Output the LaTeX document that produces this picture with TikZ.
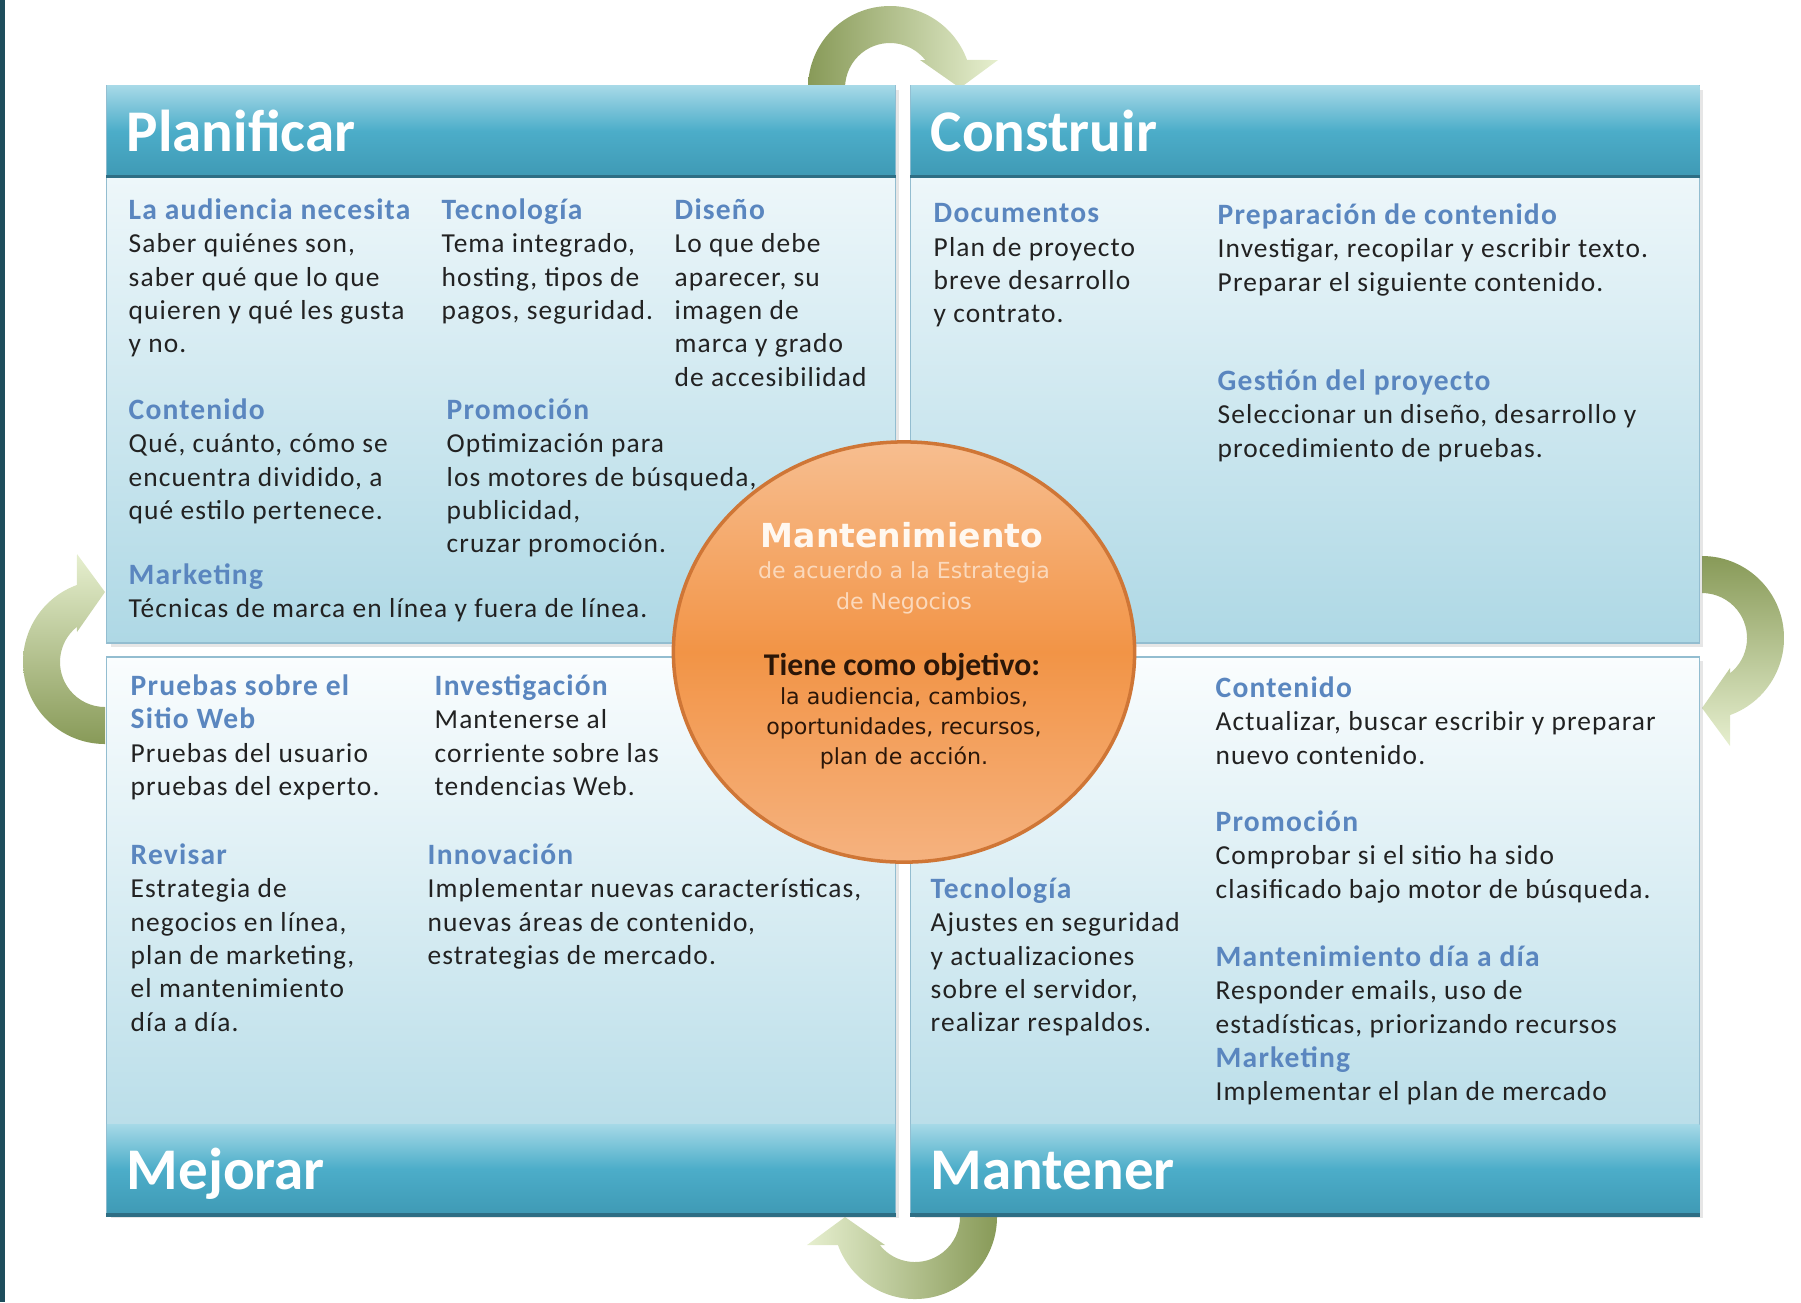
\documentclass[tikz,border=0pt]{standalone}
\usepackage{fontspec}
\setmainfont{Carlito}[LetterSpace=4]
\newfontfamily\titlefont{Carlito}
\newfontfamily\hubfont{DejaVu Sans}
\usetikzlibrary{positioning,shapes.geometric,shadows}

\definecolor{hdtop}{HTML}{A6D9E7}
\definecolor{hdmid}{HTML}{4CADC9}
\definecolor{hdbot}{HTML}{3F9AB5}
\definecolor{hdline}{HTML}{2E6E84}
\definecolor{bodytop}{HTML}{FAFDFE}
\definecolor{bodybot}{HTML}{AED8E5}
\definecolor{panelline}{HTML}{93BDD0}
\definecolor{subhead}{HTML}{5A86BF}
\definecolor{bodytext}{HTML}{222222}
\definecolor{hubtop}{HTML}{F7BE90}
\definecolor{hubmid}{HTML}{F29446}
\definecolor{hubbot}{HTML}{F5B27F}
\definecolor{hubline}{HTML}{CF7636}
\definecolor{hubwhite}{HTML}{FFF8F0}
\definecolor{hubpale}{HTML}{FBD9BC}
\definecolor{hubdark}{HTML}{2B1608}
\definecolor{olivedark}{HTML}{889A58}
\definecolor{olivelight}{HTML}{E6EFCF}
\definecolor{edge}{HTML}{1E4D5C}

\newcommand{\hdg}[1]{{\fontsize{8.4}{9.48}\selectfont\bfseries\color{subhead}#1}}

\begin{document}
\begin{tikzpicture}[x=0.01cm,y=-0.01cm]
\tikzset{
panel/.style={draw=panelline,line width=0.4pt,inner sep=0,minimum width=7.88cm,minimum height=5.57cm,top color=bodytop,bottom color=bodybot,drop shadow={opacity=0.2,shadow xshift=0.04cm,shadow yshift=-0.04cm}},
band/.style={inner sep=0,minimum width=7.88cm,minimum height=0.9cm,top color=hdtop,bottom color=hdbot,middle color=hdmid},
title/.style={inner sep=0,text height=11.5pt,text depth=0pt,text=white,font=\titlefont\fontsize{16.8}{18}\selectfont\bfseries},
block/.style={anchor=north west,inner sep=0,align=left,text=bodytext,font=\fontsize{7.8}{9.48}\selectfont},
hub/.style={ellipse,draw=hubline,line width=1pt,minimum width=4.61cm,minimum height=4.2cm,top color=hubtop,bottom color=hubbot,middle color=hubmid},
cyc arrow/.pic={
  \shade[#1] (180:82) arc[start angle=180,end angle=340,radius=82] -- (108,-28) -- (70,0) -- (30,-28) -- (321.5:45) arc[start angle=321.5,end angle=180,radius=45] -- cycle;
}
}

\useasboundingbox (0,0) rectangle (1801,1302);
\fill[edge] (0,0) rectangle (5,1302);

% arrows round the cycle
\pic at (890,88) {cyc arrow={left color=olivedark,right color=olivelight}};
\pic[rotate=-90] at (1702,638) {cyc arrow={top color=olivedark,bottom color=olivelight}};
\pic[rotate=180] at (915,1217) {cyc arrow={right color=olivedark,left color=olivelight}};
\pic[rotate=90] at (105,662) {cyc arrow={bottom color=olivedark,top color=olivelight}};

% the four panels
\node(plan)[panel] at (501,364.5) {};
\node(cons)[panel] at (1305,364.5) {};
\node(mejo)[panel] at (501,935.5) {};
\node(mant)[panel] at (1305,935.5) {};

\node(hplan)[band,anchor=north] at (plan.north) {};
\node(hcons)[band,anchor=north] at (cons.north) {};
\node(hmejo)[band,anchor=south] at (mejo.south) {};
\node(hmant)[band,anchor=south] at (mant.south) {};
\foreach \b in {hplan,hcons,hmejo,hmant}
  \draw[hdline,line width=1pt] (\b.south west) -- (\b.south east);

\node(tplan)[title,right=0.2cm of hplan.west] {Planificar};
\node(tcons)[title,right=0.2cm of hcons.west] {Construir};
\node(tmejo)[title,right=0.2cm of hmejo.west] {Mejorar};
\node(tmant)[title,right=0.2cm of hmant.west] {Mantener};

% Planificar
\node(aud)[block] at (128,198) {\hdg{La audiencia necesita}\\Saber quiénes son,\\saber qué que lo que\\quieren y qué les gusta\\y no.};
\node(tec)[block] at (441,198) {\hdg{Tecnología}\\Tema integrado,\\hosting, tipos de\\pagos, seguridad.};
\node(dis)[block] at (674,198) {\hdg{Diseño}\\Lo que debe\\aparecer, su\\imagen de\\marca y grado\\de accesibilidad};
\node(cont)[block] at (128,398) {\hdg{Contenido}\\Qué, cuánto, cómo se\\encuentra dividido, a\\qué estilo pertenece.};
\node(prom)[block] at (446,398) {\hdg{Promoción}\\Optimización para\\los motores de búsqueda,\\publicidad,\\cruzar promoción.};
\node(mark)[block] at (128,563) {\hdg{Marketing}\\Técnicas de marca en línea y fuera de línea.};

% Construir
\node(doc)[block] at (933,203) {\hdg{Documentos}\\Plan de proyecto\\breve desarrollo\\y contrato.};
\node(prep)[block] at (1217,203) {\hdg{Preparación de contenido}\\Investigar, recopilar y escribir texto.\\Preparar el siguiente contenido.};
\node(gest)[block] at (1217,369) {\hdg{Gestión del proyecto}\\Seleccionar un diseño, desarrollo y\\procedimiento de pruebas.};

% Mejorar
\node(prue)[block] at (130,674) {\hdg{Pruebas sobre el}\\\hdg{Sitio Web}\\Pruebas del usuario\\pruebas del experto.};
\node(inv)[block] at (434,674) {\hdg{Investigación}\\Mantenerse al\\corriente sobre las\\tendencias Web.};
\node(rev)[block] at (130,843) {\hdg{Revisar}\\Estrategia de\\negocios en línea,\\plan de marketing,\\el mantenimiento\\día a día.};
\node(inno)[block] at (427,843) {\hdg{Innovación}\\Implementar nuevas características,\\nuevas áreas de contenido,\\estrategias de mercado.};

% Mantener
\node(mcont)[block] at (1215,676) {\hdg{Contenido}\\Actualizar, buscar escribir y preparar\\nuevo contenido.};
\node(mprom)[block] at (1215,810) {\hdg{Promoción}\\Comprobar si el sitio ha sido\\clasificado bajo motor de búsqueda.};
\node(mtec)[block] at (930,877) {\hdg{Tecnología}\\Ajustes en seguridad\\y actualizaciones\\sobre el servidor,\\realizar respaldos.};
\node(mdia)[block] at (1215,945) {\hdg{Mantenimiento día a día}\\Responder emails, uso de\\estadísticas, priorizando recursos};
\node(mmark)[block] at (1215,1046) {\hdg{Marketing}\\Implementar el plan de mercado};

% centre
\node(hub)[hub] at (904,652) {};
\node(hubname) at (902,535) [text=hubwhite,font=\hubfont\bfseries\fontsize{9.4}{10}\selectfont] {Mantenimiento};
\node(hubsub) at (904,588) [text=hubpale,align=center,font=\hubfont\fontsize{6.3}{8.8}\selectfont] {de acuerdo a la Estrategia\\de Negocios};
\node(hubgoal) at (902,667) [text=hubdark,font=\titlefont\fontsize{9}{10}\selectfont\bfseries] {Tiene como objetivo:};
\node(hublist) at (904,728) [text=hubdark,align=center,font=\hubfont\fontsize{6.3}{8.5}\selectfont] {la audiencia, cambios,\\oportunidades, recursos,\\plan de acción.};
\end{tikzpicture}
\end{document}
